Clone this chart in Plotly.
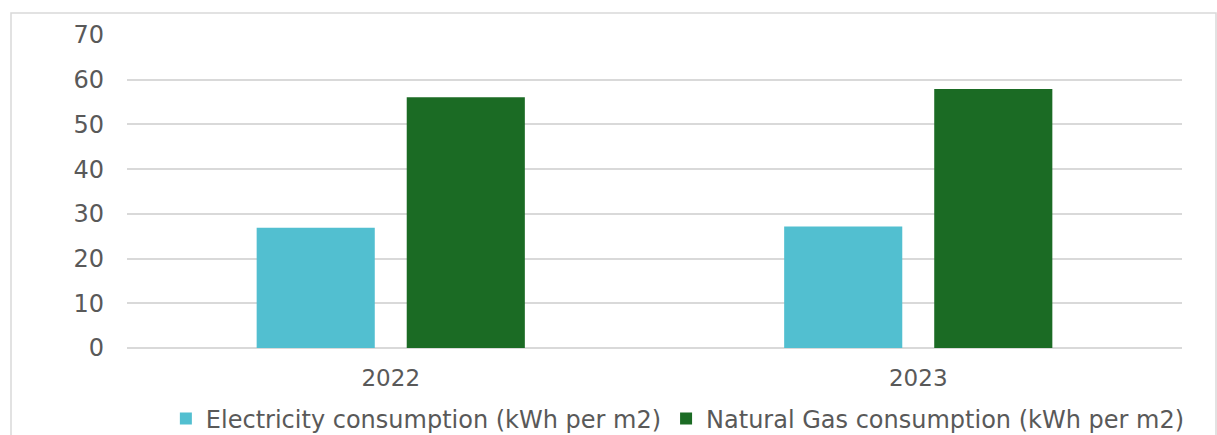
import plotly.graph_objects as go

years = ["2022", "2023"]
electricity = [26.9, 27.2]
natural_gas = [56.1, 57.9]
series_names = ["Electricity consumption (kWh per m2)", "Natural Gas consumption (kWh per m2)"]
y_ticks = [0, 10, 20, 30, 40, 50, 60, 70]

font_family = "DejaVu Sans, sans-serif"
text_color = "#595959"
grid_color = "#d9d9d9"

fig = go.Figure()
fig.add_trace(go.Bar(x=years, y=electricity, name=series_names[0],
                     marker=dict(color="#52bfd0", line=dict(width=0))))
fig.add_trace(go.Bar(x=years, y=natural_gas, name=series_names[1],
                     marker=dict(color="#1b6b24", line=dict(width=0))))

fig.update_layout(
    width=1217, height=435,
    margin=dict(l=127, r=35, t=35, b=87, autoexpand=False),
    paper_bgcolor="white", plot_bgcolor="white",
    barmode="group", bargap=0.431, bargroupgap=0.213,
    font=dict(family=font_family, color=text_color, size=23),
    showlegend=True,
    legend=dict(orientation="h", x=0.557, xref="container", xanchor="center",
                y=16 / 435, yref="container", yanchor="middle",
                font=dict(size=24, color=text_color), tracegroupgap=0,
                traceorder="normal"),
    xaxis=dict(showgrid=False, showline=False, zeroline=False, automargin=False,
               ticks="", ticklabelstandoff=14, tickfont=dict(size=23, color=text_color)),
    yaxis=dict(range=[0, 70], tickvals=y_ticks, showgrid=True, gridcolor=grid_color,
               gridwidth=1.5, zeroline=True, zerolinecolor=grid_color, zerolinewidth=1.5,
               showline=False, ticks="", ticklabelstandoff=22, automargin=False,
               tickfont=dict(size=24, color=text_color)),
    shapes=[dict(type="rect", xref="paper", yref="paper",
                 x0=(11 - 127) / 1055, x1=(1216 - 127) / 1055,
                 y0=-0.4, y1=(348 - 13) / 313,
                 line=dict(color="#d9d9d9", width=1.5), fillcolor="rgba(0,0,0,0)",
                 layer="below")],
)

fig.write_html("out.html")
